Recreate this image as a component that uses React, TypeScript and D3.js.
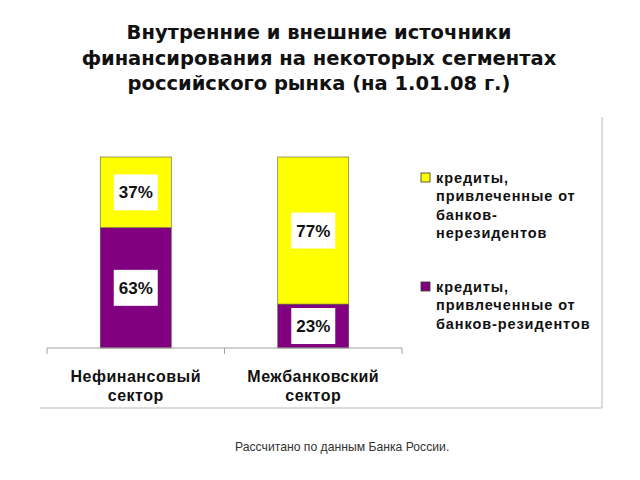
import React from "react";
import * as d3 from "d3";

const titleLines = [
  "Внутренние и внешние источники",
  "финансирования на некоторых сегментах",
  "российского рынка (на 1.01.08 г.)",
];
const categories = ["Нефинансовый сектор", "Межбанковский сектор"];
const categoryLines = [
  ["Нефинансовый", "сектор"],
  ["Межбанковский", "сектор"],
];
const residentValues = [63, 23];
const nonResidentValues = [37, 77];
const seriesNames = [
  ["кредиты,", "привлеченные от", "банков-", "нерезидентов"],
  ["кредиты,", "привлеченные от", "банков-резидентов"],
];
const footnote = "Рассчитано по данным Банка России.";

const YELLOW = "#FFFF00";
const PURPLE = "#800080";
const FONT = "'Liberation Sans', Arial, sans-serif";
const TITLE_FONT = "'DejaVu Sans', Verdana, sans-serif";

export default function App() {
  const W = 640;
  const H = 480;
  const x = d3.scaleBand<string>().domain(categories).range([47, 402]).padding(0);
  const y = d3.scaleLinear().domain([0, 100]).range([348, 157]);
  const barW = x.bandwidth() * 0.4;

  const stacks = categories.map((c, i) => {
    const r = residentValues[i];
    const n = nonResidentValues[i];
    return [
      { key: "res", y0: 0, y1: r, v: r, color: PURPLE },
      { key: "non", y0: r, y1: r + n, v: n, color: YELLOW },
    ];
  });

  const legendColors = [YELLOW, PURPLE];
  const legendTop = [183, 292];

  return (
    <svg width={W} height={H} style={{ position: "absolute", left: 0, top: 0, background: "#fff" }}>
      <rect x={0} y={0} width={W} height={H} fill="#fff" />
      {titleLines.map((t, i) => (
        <text
          key={i}
          x={319}
          y={39 + i * 25.5}
          textAnchor="middle"
          fontFamily={TITLE_FONT}
          fontWeight="bold"
          fontSize={19.5}
          fill="#111"
        >
          {t}
        </text>
      ))}

      {/* frame edges */}
      <line x1={602} x2={602} y1={117} y2={408} stroke="#d0d0d0" strokeWidth={1.5} />
      <line x1={40} x2={602} y1={408} y2={408} stroke="#d0d0d0" strokeWidth={1.5} />

      {/* bars */}
      {categories.map((c, i) => {
        const cx = (x(c) as number) + x.bandwidth() / 2;
        return (
          <g key={c}>
            {stacks[i].map((s) => (
              <rect
                key={s.key}
                x={cx - barW / 2}
                y={y(s.y1)}
                width={barW}
                height={y(s.y0) - y(s.y1)}
                fill={s.color}
                stroke="#5a5a3a"
                strokeWidth={0.6}
              />
            ))}
            {stacks[i].map((s) => {
              const cy = (y(s.y0) + y(s.y1)) / 2;
              const h = Math.min(36, y(s.y0) - y(s.y1) - 6);
              return (
                <g key={s.key + "l"}>
                  <rect x={cx - 22} y={cy - h / 2} width={44} height={h} fill="#fff" />
                  <text
                    x={cx}
                    y={cy + 6}
                    textAnchor="middle"
                    fontFamily={FONT}
                    fontWeight="bold"
                    fontSize={17}
                    fill="#111"
                  >
                    {s.v}%
                  </text>
                </g>
              );
            })}
          </g>
        );
      })}

      {/* axis */}
      <line x1={47} x2={402} y1={348} y2={348} stroke="#a0a0a0" strokeWidth={1} />
      {[47, ...categories.map((c) => (x(c) as number) + x.bandwidth())].map((tx, i) => (
        <line key={i} x1={tx} x2={tx} y1={348} y2={354} stroke="#a0a0a0" strokeWidth={1} />
      ))}
      {categories.map((c, i) => {
        const cx = (x(c) as number) + x.bandwidth() / 2;
        return categoryLines[i].map((t, j) => (
          <text
            key={c + j}
            x={cx}
            y={382 + j * 19}
            textAnchor="middle"
            fontFamily={FONT}
            fontWeight="bold"
            fontSize={16}
            letterSpacing={0.5}
            fill="#111"
          >
            {t}
          </text>
        ));
      })}

      {/* legend */}
      {seriesNames.map((lines, i) => (
        <g key={i}>
          <rect
            x={421}
            y={legendTop[i] - 10}
            width={9}
            height={9}
            fill={legendColors[i]}
            stroke="#333"
            strokeWidth={0.8}
          />
          {lines.map((t, j) => (
            <text
              key={j}
              x={436}
              y={legendTop[i] + j * 18.3}
              fontFamily={FONT}
              fontWeight="bold"
              fontSize={14.5}
              letterSpacing={0.9}
              fill="#111"
            >
              {t}
            </text>
          ))}
        </g>
      ))}

      <text x={235} y={451} fontFamily={FONT} fontSize={12.2} fill="#333">
        {footnote}
      </text>
    </svg>
  );
}
